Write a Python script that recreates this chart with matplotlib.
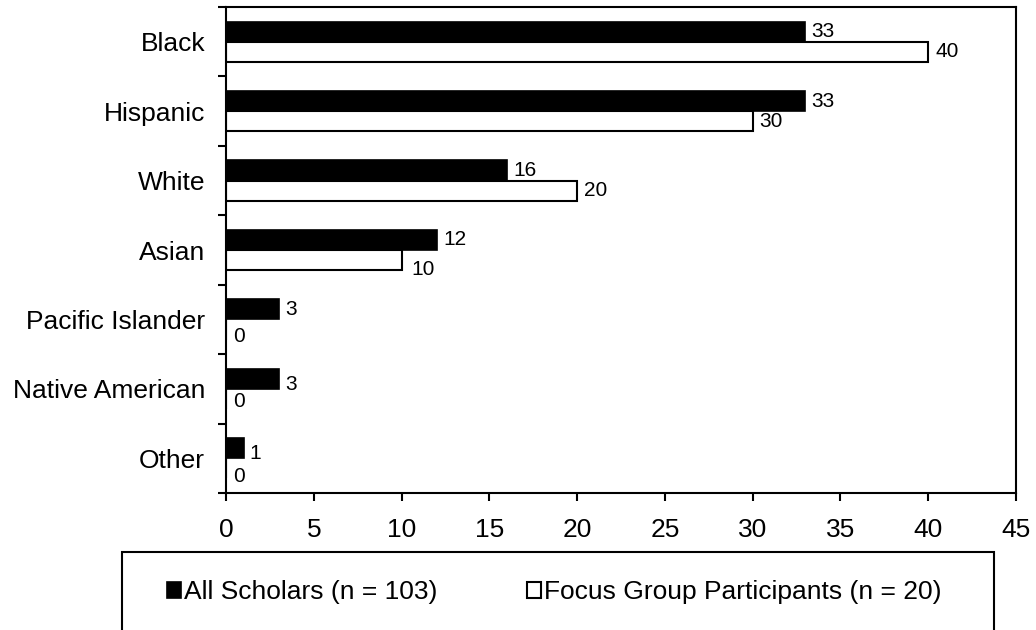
import matplotlib
matplotlib.use("Agg")
import matplotlib.pyplot as plt
from matplotlib.patches import Rectangle
import numpy as np

plt.rcParams['font.family'] = ['Liberation Sans', 'DejaVu Sans']

categories = ["Black", "Hispanic", "White", "Asian",
              "Pacific Islander", "Native American", "Other"]
all_scholars = [33, 33, 16, 12, 3, 3, 1]
focus_group = [40, 30, 20, 10, 0, 0, 0]
series_labels = ["All Scholars (n = 103)", "Focus Group Participants (n = 20)"]
x_ticks = [0, 5, 10, 15, 20, 25, 30, 35, 40, 45]

fig = plt.figure(figsize=(10.36, 6.30), dpi=100)
ax = fig.add_axes([226 / 1036, 1 - 493 / 630, (1016 - 226) / 1036, (493 - 7) / 630])

y = np.arange(len(categories))
h = 0.29
b1 = ax.barh(y - h / 2, all_scholars, height=h, color="black",
             edgecolor="black", linewidth=1.2, label=series_labels[0])
b2 = ax.barh(y + h / 2, focus_group, height=h, color="white",
             edgecolor="black", linewidth=1.5, label=series_labels[1])

ax.set_xlim(0, 45)
ax.set_ylim(len(categories) - 0.5, -0.5)
ax.set_xticks(x_ticks)
ax.set_xticklabels([str(t) for t in x_ticks])
ax.set_yticks(y)
ax.set_yticklabels(categories)
ax.set_yticks(np.arange(len(categories) + 1) - 0.5, minor=True)

ax.tick_params(axis="y", which="major", length=0, pad=15, labelsize=19)
ax.tick_params(axis="y", which="minor", length=6, width=1.5, direction="out")
ax.tick_params(axis="x", which="major", length=6, width=1.5, direction="out",
               pad=12, labelsize=19)
for s in ax.spines.values():
    s.set_linewidth(1.5)

# value labels, with small vertical nudges (points) where labels were shifted
nudge_black = [0, 0, 0, 0, 0, -4, -3.5]
nudge_white = [0, 0, 0, -7, -5, -2, -6]
for i, (rect, v) in enumerate(zip(b1, all_scholars)):
    ax.annotate(str(v), (v, rect.get_y() + rect.get_height() / 2),
                xytext=(4.5, nudge_black[i]), textcoords="offset points",
                ha="left", va="center", fontsize=15)
for i, (rect, v) in enumerate(zip(b2, focus_group)):
    dx = 7 if i == 3 else 5
    ax.annotate(str(v), (v, rect.get_y() + rect.get_height() / 2),
                xytext=(dx, nudge_white[i]), textcoords="offset points",
                ha="left", va="center", fontsize=15)

# legend box at the bottom
fig.add_artist(Rectangle((122 / 1036, -0.1), (994 - 122) / 1036, 0.1 + (630 - 552) / 630,
                         transform=fig.transFigure, fill=False, edgecolor="black",
                         linewidth=1.5))
fig.legend(handles=[b1, b2], labels=series_labels, ncol=2, loc="center",
           bbox_to_anchor=(554 / 1036, 1 - 592 / 630), frameon=False,
           fontsize=19, handlelength=0.55, handleheight=0.55,
           handletextpad=0.1, columnspacing=3.4, borderpad=0)

fig.savefig("out.png", dpi=100)
